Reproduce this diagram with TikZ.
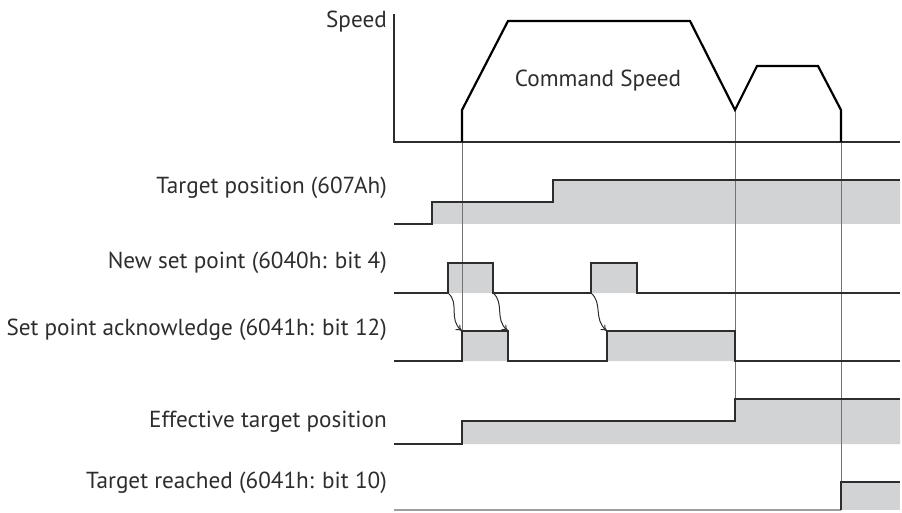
\documentclass[tikz,border=0pt]{standalone}
\usepackage{fontspec}
\setmainfont{PT Sans}
\usepackage{tikz}
\usetikzlibrary{arrows.meta,calc}
\definecolor{sigline}{RGB}{45,45,45}
\definecolor{sigfill}{RGB}{209,211,212}
\definecolor{guidegray}{RGB}{115,115,115}

\tikzset{
  sig/.style={draw=sigline, line width=1.2pt},
  sigarea/.style={fill=sigfill},
  guideline/.style={draw=guidegray, line width=1pt},
  profile/.style={draw=black, line width=2.2pt, line join=miter},
  lab/.style={anchor=east, font=\fontsize{23.2}{27}\selectfont, text=sigline, inner sep=0pt},
  ackarrow/.style={-{To[length=6pt,width=7pt]}, draw=sigline, line width=1pt},
}

\begin{document}
\begin{tikzpicture}[x=1pt, y=1pt]
\useasboundingbox (0,0) rectangle (902,512);

% Etichette dei segnali
\foreach \y/\nm/\lab in {490/spd/Speed, 324/tpos/Target position (607Ah), 249/nsp/New set point (6040h: bit 4),
  182/spa/Set point acknowledge (6041h: bit 12), 90/etp/Effective target position, 29/trd/Target reached (6041h: bit 10)}{
  \node[lab] (\nm) at (387, \y) {\lab};
}
\node[lab, anchor=center] (cmd) at (598, 431) {Command Speed};

% Aree grigie
\fill[sigarea] (432,288) -- (432,310) -- (553,310) -- (553,332) -- (900,332) -- (900,288) -- cycle;
\fill[sigarea] (448,219) rectangle (493,249) (591,219) rectangle (637,249);
\fill[sigarea] (462,151) rectangle (508,181) (607,151) rectangle (735,181);
\fill[sigarea] (462,68) -- (462,91) -- (735,91) -- (735,113) -- (900,113) -- (900,68) -- cycle;
\fill[sigarea] (841,2) rectangle (900,30);

% Linee di riferimento verticali
\draw[guideline] (462,370) -- (462,181);
\draw[guideline] (735,402) -- (735,113);
\draw[guideline] (841,370) -- (841,30);

% Assi della velocita'
\draw[sig] (394,498) -- (394,370) -- (900,370);
\draw[profile] (462,370) -- (462,402) -- (508,491) -- (690,491) -- (735,402) -- (757,446) -- (818,446) -- (841,402) -- (841,370);

% Segnali
\draw[sig] (394,288) -| (432,310) -| (553,332) -- (900,332);
\draw[sig] (394,219) -| (448,249) -| (493,219) -| (591,249) -| (637,219) -- (900,219);
\draw[sig] (394,151) -| (462,181) -| (508,151) -| (607,181) -| (735,151) -- (900,151);
\draw[sig] (394,68) -| (462,91) -| (735,113) -- (900,113);
\draw[sig, draw=guidegray!70] (394,2) -- (841,2);
\draw[sig] (841,2) -- (841,30) -- (900,30);

% Frecce di conferma
\coordinate (n1) at (448,219); \coordinate (a1) at (462,181);
\coordinate (n2) at (493,219); \coordinate (a2) at (508,181);
\coordinate (n3) at (591,219); \coordinate (a3) at (607,181);
\foreach \i in {1,2,3}{
  \draw[ackarrow] (n\i) .. controls ($(n\i)+(12,-10)$) and ($(a\i)+(-14,12)$) .. (a\i);
}

\end{tikzpicture}
\end{document}
